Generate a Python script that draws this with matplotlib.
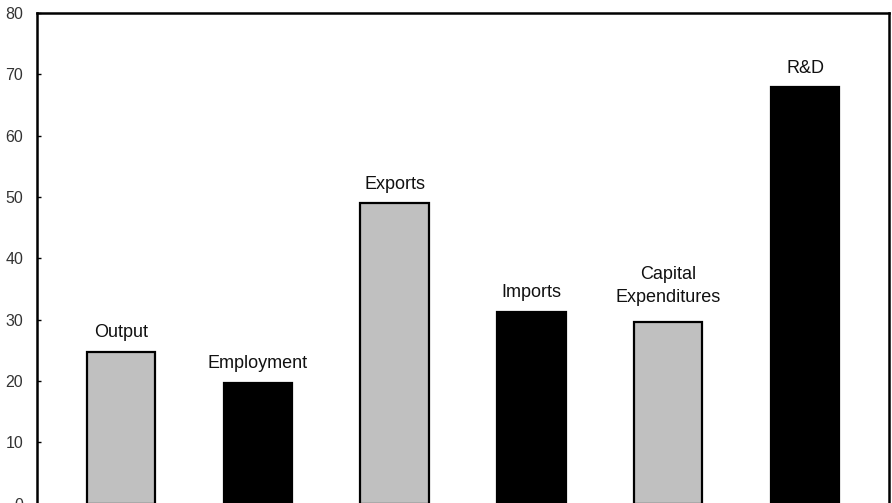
import matplotlib.pyplot as plt

categorias = ["Output", "Employment", "Exports", "Imports", "Capital\nExpenditures", "R&D"]
valores = [24.8, 19.7, 49.0, 31.3, 29.7, 67.9]
cores = ["#c0c0c0", "#000000", "#c0c0c0", "#000000", "#c0c0c0", "#000000"]
yticks = [0, 10, 20, 30, 40, 50, 60, 70, 80]

plt.rcParams['font.family'] = ['Liberation Sans', 'DejaVu Sans']

fig = plt.figure(figsize=(8.92, 5.03), dpi=100)
ax = fig.add_axes([37 / 892, -0.0012, 852 / 892, 0.975])

x = list(range(len(categorias)))
ax.bar(x, valores, width=0.5, color=cores, edgecolor="black", linewidth=1.6)

# rotulos acima das barras
for i, (cat, v) in enumerate(zip(categorias, valores)):
    extra = 4 if "\n" in cat else 0
    ax.annotate(cat, (i, v), xytext=(0, 7.5 + extra), textcoords="offset points",
                ha="center", va="bottom", fontsize=13, linespacing=1.45, color="#111111")

ax.set_xlim(-0.613, 5.613)
ax.set_ylim(0, 80)
ax.set_yticks(yticks)
ax.set_xticks([])
ax.tick_params(axis="y", direction="in", length=3, width=1, labelsize=11.5,
               labelcolor="#333333", pad=10)
for s in ax.spines.values():
    s.set_linewidth(1.8)

fig.savefig("out.png", dpi=100)
